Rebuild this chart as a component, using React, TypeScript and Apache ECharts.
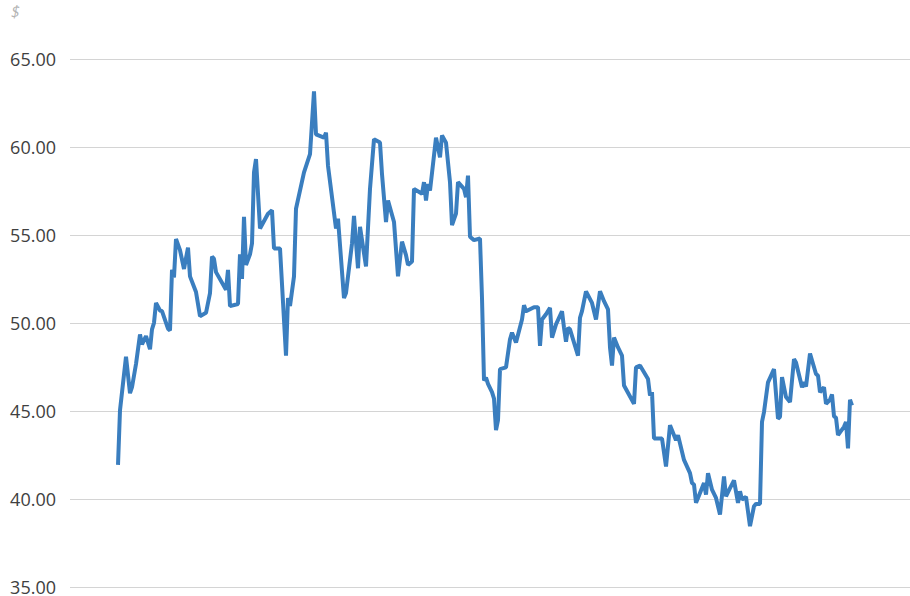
import React, { useEffect, useRef } from "react";
import * as echarts from "echarts";

// Trading-day offsets and closing prices in $
const days: number[] = [
  0, 1, 4, 6, 7, 9, 11, 12, 14, 16, 17, 18, 19, 21, 22, 25, 26, 27, 28, 29,
  31, 33, 34, 35, 36, 39, 41, 44, 46, 47, 48, 49, 54, 55, 56, 60, 61, 62, 63, 64,
  66, 67, 68, 69, 71, 75, 77, 78, 81, 84, 85, 86, 88, 89, 93, 96, 98, 99, 103, 104,
  105, 109, 110, 113, 114, 117, 118, 120, 121, 124, 126, 128, 131, 132, 134, 135, 138, 140, 142, 144,
  145, 147, 148, 152, 153, 154, 155, 156, 159, 161, 162, 164, 166, 167, 169, 170, 173, 174, 175, 176,
  178, 181, 182, 183, 184, 185, 187, 188, 189, 190, 191, 194, 196, 197, 199, 202, 203, 204, 208, 210,
  211, 212, 214, 216, 217, 219, 222, 223, 224, 225, 226, 230, 231, 232, 234, 237, 239, 241, 243, 245,
  246, 247, 248, 250, 252, 253, 258, 259, 261, 265, 266, 267, 268, 272, 274, 276, 279, 280, 283, 286,
  287, 288, 289, 290, 293, 294, 295, 297, 299, 301, 303, 304, 306, 308, 310, 311, 312, 314, 316, 318,
  319, 321, 322, 323, 325, 328, 330, 331, 332, 334, 336, 338, 339, 342, 343, 344, 346, 349, 350, 351,
  353, 354, 356, 357, 358, 359, 360, 363, 364, 365, 366, 367,
];

const prices: number[] = [
  41.94, 45.04, 48.08, 46.01, 46.35, 47.67, 49.35, 48.79, 49.26, 48.51, 49.64, 50.01, 51.14, 50.71, 50.67, 49.68, 49.58, 53.02, 52.59, 54.77,
  54.14, 53.07, 53.68, 54.28, 52.65, 51.76, 50.39, 50.58, 51.7, 53.77, 53.64, 52.89, 51.89, 53.02, 50.96, 51.08, 53.9, 52.51, 56.03, 53.3,
  53.9, 54.52, 58.56, 59.31, 55.37, 56.21, 56.4, 54.24, 54.24, 48.14, 51.42, 50.96, 52.65, 56.49, 58.56, 59.59, 63.16, 60.72, 60.53, 60.81,
  58.94, 55.37, 55.93, 51.42, 51.7, 54.52, 56.08, 53.11, 55.46, 53.21, 57.62, 60.44, 60.25, 58.46, 55.74, 56.96, 55.74, 52.65, 54.62, 53.86,
  53.3, 53.49, 57.62, 57.34, 58.0, 56.96, 57.9, 57.52, 60.53, 59.41, 60.66, 60.25, 58.0, 55.56, 56.21, 58.0, 57.62, 57.15, 58.37, 54.9,
  54.71, 54.8, 51.42, 46.73, 46.9, 46.54, 46.07, 45.7, 43.91, 44.48, 47.38, 47.48, 49.07, 49.45, 48.89, 50.2, 51.01, 50.67, 50.9, 50.9,
  48.7, 50.2, 50.5, 50.86, 49.17, 49.92, 50.67, 49.73, 48.94, 49.73, 49.64, 48.14, 50.3, 50.67, 51.8, 51.14, 50.2, 51.8, 51.24, 50.77,
  48.61, 47.58, 49.17, 48.61, 48.14, 46.45, 45.41, 47.48, 47.58, 46.82, 45.88, 46.07, 43.44, 43.44, 41.85, 44.19, 43.34, 43.63, 42.22, 41.47,
  40.91, 40.82, 39.78, 40.06, 40.91, 40.25, 41.47, 40.53, 40.06, 39.12, 41.28, 40.15, 40.62, 41.06, 39.78, 40.44, 39.97, 40.12, 38.46, 39.59,
  39.72, 39.72, 44.38, 44.94, 46.63, 47.38, 44.57, 44.66, 46.92, 45.79, 45.51, 47.95, 47.76, 46.35, 46.63, 46.39, 48.27, 47.1, 47.01, 46.07,
  46.35, 45.41, 45.64, 45.94, 44.7, 44.62, 43.63, 44.1, 44.38, 42.88, 45.64, 45.32,
];

const yTicks: number[] = [35, 40, 45, 50, 55, 60, 65];
const unitLabel = "$";

export default function App() {
  const ref = useRef<HTMLDivElement>(null);

  useEffect(() => {
    if (!ref.current) return;
    const chart = echarts.init(ref.current, undefined, { renderer: "svg" });
    const data = days.map((d, i) => [d, prices[i]]);
    chart.setOption({
      animation: false,
      backgroundColor: "#ffffff",
      grid: { left: 70, right: 0, top: 59, height: 533, containLabel: false },
      graphic: [
        {
          type: "text",
          left: 11,
          top: 3,
          style: {
            text: unitLabel,
            fill: "#b3b3b3",
            font: "italic 16px 'Open Sans'",
          },
        },
      ],
      xAxis: {
        type: "value",
        min: -24,
        max: 396,
        show: false,
        splitLine: { show: false },
      },
      yAxis: {
        type: "value",
        min: yTicks[0],
        max: yTicks[yTicks.length - 1],
        interval: 5,
        axisLine: { show: false },
        axisTick: { show: false },
        axisLabel: {
          margin: 14,
          color: "#404040",
          fontFamily: "Open Sans",
          fontSize: 18,
          formatter: (v: number) => v.toFixed(2),
        },
        splitLine: { show: true, lineStyle: { color: "#d4d4d4", width: 1 } },
      },
      series: [
        {
          type: "line",
          data,
          symbol: "none",
          lineStyle: { color: "#3a7ebf", width: 4 },
          itemStyle: { color: "#3a7ebf" },
        },
      ],
    });
    return () => chart.dispose();
  }, []);

  return (
    <div
      ref={ref}
      style={{ position: "absolute", left: 0, top: 0, width: 910, height: 596 }}
    />
  );
}
